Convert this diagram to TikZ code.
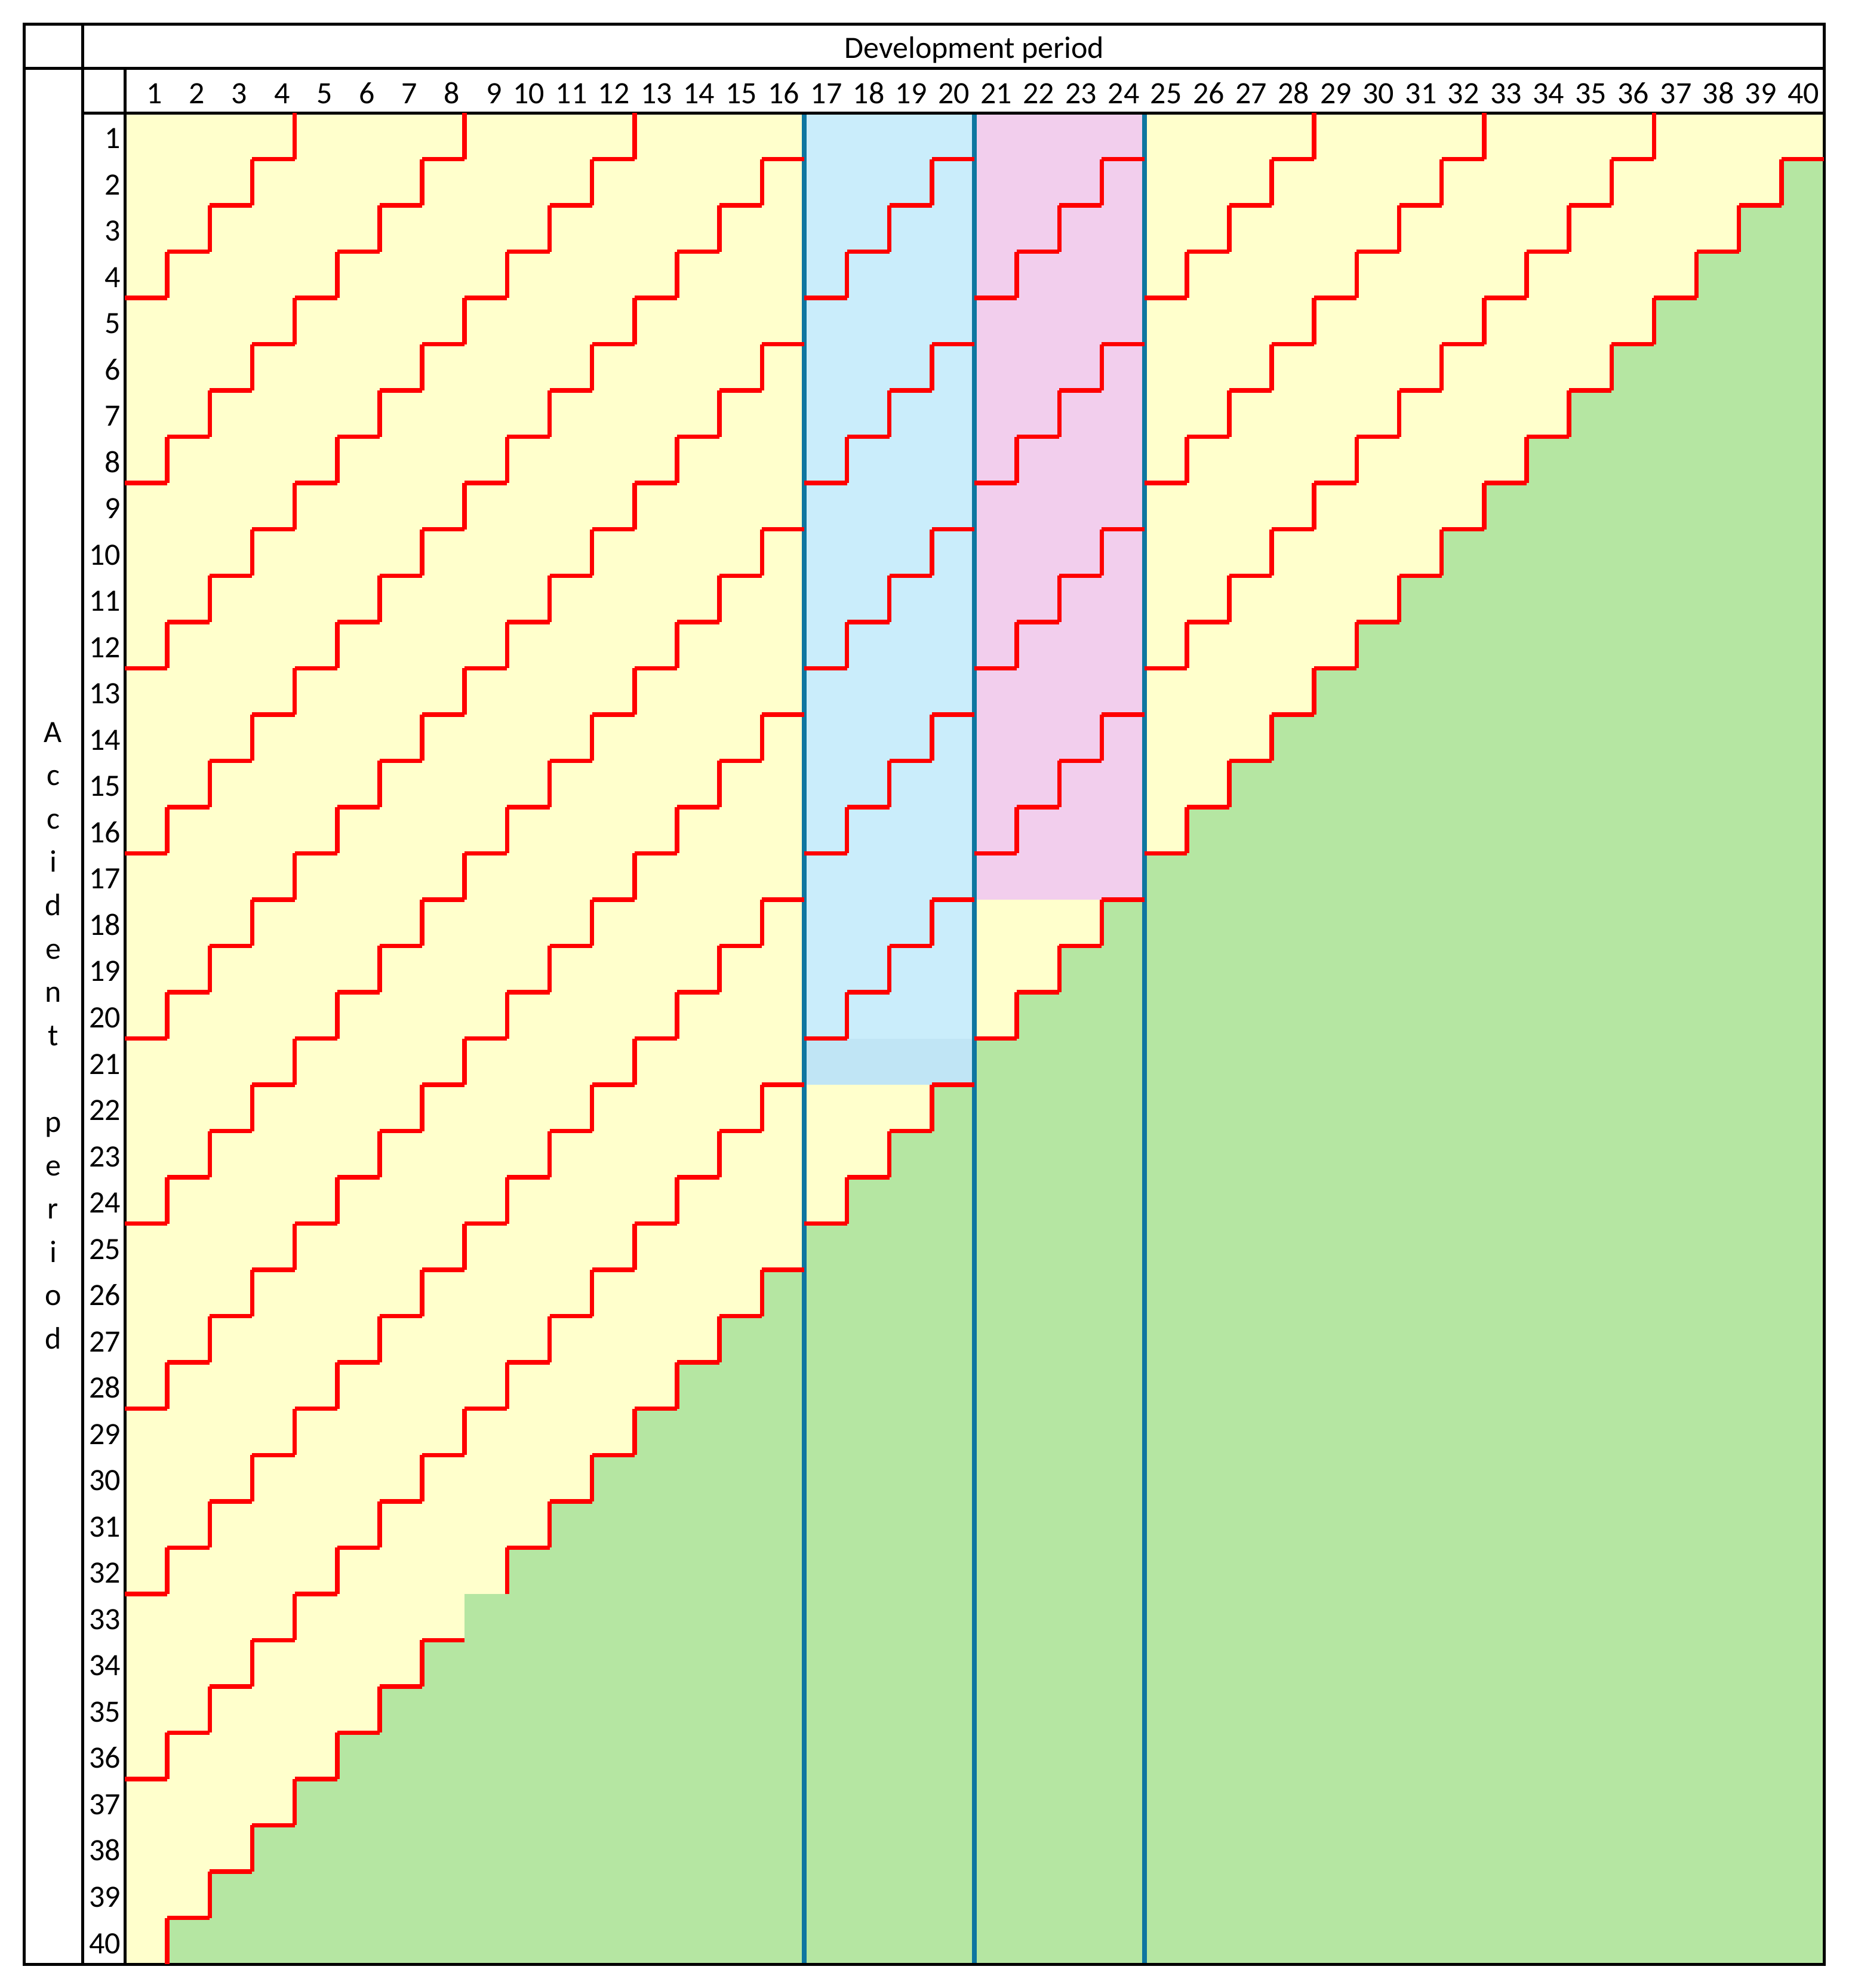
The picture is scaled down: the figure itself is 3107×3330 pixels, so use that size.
\documentclass[tikz,border=0pt]{standalone}
\usepackage{fontspec}
\setmainfont{Carlito}
\definecolor{cellyellow}{HTML}{FFFFCC}
\definecolor{cellgreen}{HTML}{B5E6A2}
\definecolor{cellblue}{HTML}{CAEDFB}
\definecolor{cellbluedark}{HTML}{C0E5F5}
\definecolor{cellpink}{HTML}{F2CEED}
\definecolor{bandline}{HTML}{0E76A0}
\newcommand\lblfont{\fontsize{52}{62}\selectfont}
\begin{document}
\begin{tikzpicture}[x=1pt,y=-1pt,
  declare function={gx(\a)=209+\a*71.15; gy(\b)=189+\b*77.525;},
  lbl/.style={font=\lblfont, inner sep=0pt},
  redline/.style={draw=red, line width=7.5pt, line cap=square},
  bandrule/.style={draw=bandline, line width=8pt},
  gridrule/.style={draw=black, line width=5pt}]
\useasboundingbox (0,0) rectangle (3107,3330);
% ---- cell fills
\fill[cellyellow] ({gx(0)},{gy(0)}) rectangle ({gx(40)},{gy(40)});
\foreach \j in {2,...,40} {
  \fill[cellgreen] ({gx(\j-1)},{gy(41-\j)}) rectangle ({gx(\j)+0.6},{gy(40)});
}
\fill[cellblue] ({gx(16)},{gy(0)}) rectangle ({gx(20)},{gy(20)});
\fill[cellbluedark] ({gx(16)},{gy(20)}) rectangle ({gx(20)},{gy(21)});
\fill[cellpink] ({gx(20)},{gy(0)}) rectangle ({gx(24)},{gy(17)});
% ---- blue column rules
\foreach \cv in {16,20,24} {
  \draw[bandrule] ({gx(\cv)},{gy(0)}) -- ({gx(\cv)},{gy(40)});
}
% ---- black table rules
\draw[gridrule] (40,40) rectangle (3055,3290);
\draw[gridrule] (138,40) -- (138,3290);
\draw[gridrule] (209,114) -- (209,3290);
\draw[gridrule] (40,114) -- (3055,114);
\draw[gridrule] (138,189) -- (3055,189);
% ---- red staircases
\foreach \dd in {4,8,...,40} {
  \pgfmathtruncatemacro\kmax{\dd-1}
  \foreach \kv in {0,...,\kmax} {
    \pgfmathtruncatemacro\cv{\dd-\kv}
    \pgfmathtruncatemacro\kn{\kv+1}
    \pgfmathtruncatemacro\skipv{(\cv==16)||(\cv==20)||(\cv==24)||((\dd==40)&&(\kv==0))||((\dd==40)&&(\kv==32))}
    \ifnum\skipv=0
      \draw[redline] ({gx(\cv)},{gy(\kv)}) -- ({gx(\cv)},{gy(\kn)});
    \fi
    \pgfmathtruncatemacro\skiph{((\dd==40)&&(\kv==39))||((\dd==40)&&(\kv==31))}
    \ifnum\skiph=0
      \draw[redline] ({gx(\cv-1)},{gy(\kn)}) -- ({gx(\cv)},{gy(\kn)});
    \fi
  }
}
% ---- texts
\node[lbl, anchor=base] (devhead) at (1632,97) {Development period};
\foreach \j in {1,...,40} {
  \node[lbl, anchor=base east] (col\j) at ({gx(\j)-8},173) {\j};
}
\foreach \i in {1,...,40} {
  \node[lbl, anchor=base east] (row\i) at (202,{gy(\i)-18}) {\i};
}
\foreach \ch [count=\i from 0] in {A,c,c,i,d,e,n,t} {
  \node[lbl, anchor=base] (acc\i) at (89,{1243+\i*72.6}) {\ch};
}
\foreach \ch [count=\i from 9] in {p,e,r,i,o,d} {
  \node[lbl, anchor=base] (per\i) at (89,{1243+\i*72.6}) {\ch};
}
\end{tikzpicture}
\end{document}
